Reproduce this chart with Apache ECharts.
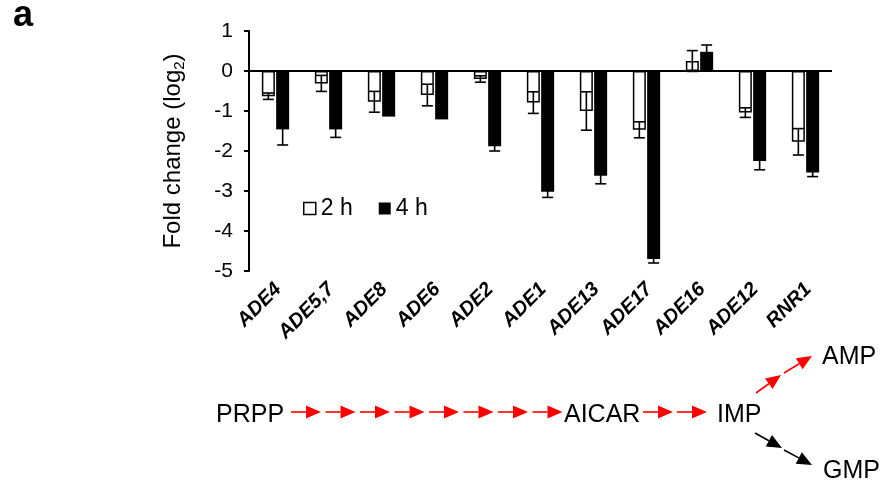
<!DOCTYPE html>
<html>
<head>
<meta charset="utf-8">
<script src="https://cdn.jsdelivr.net/npm/echarts@6/dist/echarts.min.js"></script>
<style>
  html, body { margin: 0; padding: 0; background: #fff; }
  #chart { width: 886px; height: 487px; }
</style>
</head>
<body>
<div id="chart"></div>
<script>
// genes on the x axis
var genes = ['ADE4', 'ADE5,7', 'ADE8', 'ADE6', 'ADE2', 'ADE1', 'ADE13', 'ADE17', 'ADE16', 'ADE12', 'RNR1'];
// fold change (log2) after 2 h and 4 h, with error bars
var fc2h = [-0.63, -0.31, -0.77, -0.60, -0.20, -0.79, -1.00, -1.47, 0.25, -1.04, -1.77];
var err2h = [0.08, 0.20, 0.26, 0.27, 0.08, 0.27, 0.48, 0.20, 0.26, 0.12, 0.33];
var fc4h = [-1.46, -1.46, -1.14, -1.21, -1.88, -3.02, -2.62, -4.70, 0.48, -2.25, -2.54];
var err4h = [0.39, 0.20, 0, 0, 0.12, 0.14, 0.20, 0.10, 0.17, 0.22, 0.10];
var yTicks = [-5, -4, -3, -2, -1, 0, 1];

var FONT = '"Liberation Sans", Arial, sans-serif';
var BAR_W = 13;
var BAR_GAP = 0.1;

var chart = echarts.init(document.getElementById('chart'));

// error bars drawn on top of the bars, shifted to the bar's slot
function errorBars(side) {
  return function (params, api) {
    var i = api.value(0), v = api.value(1), e = api.value(2);
    if (!e) return;
    var dx = side * (BAR_W + BAR_W * BAR_GAP) / 2;
    var hi = api.coord([i, v + e]);
    var lo = api.coord([i, v - e]);
    var x = hi[0] + dx;
    var cap = 5.5;
    var st = { stroke: '#000', lineWidth: 1.6 };
    return {
      type: 'group',
      children: [
        { type: 'line', shape: { x1: x, y1: hi[1], x2: x, y2: lo[1] }, style: st },
        { type: 'line', shape: { x1: x - cap, y1: hi[1], x2: x + cap, y2: hi[1] }, style: st },
        { type: 'line', shape: { x1: x - cap, y1: lo[1], x2: x + cap, y2: lo[1] }, style: st }
      ]
    };
  };
}

// pathway arrow: line with a filled triangle head at the tip
function arrow(x1, y1, x2, y2, color) {
  var ang = Math.atan2(y2 - y1, x2 - x1);
  var hl = 15, hw = 6.5;
  var bx = x2 - hl * Math.cos(ang), by = y2 - hl * Math.sin(ang);
  var px = -Math.sin(ang) * hw, py = Math.cos(ang) * hw;
  return {
    type: 'group',
    children: [
      { type: 'line', shape: { x1: x1, y1: y1, x2: bx, y2: by }, style: { stroke: color, lineWidth: 1.6 } },
      { type: 'polygon', shape: { points: [[x2, y2], [bx + px, by + py], [bx - px, by - py]] }, style: { fill: color } }
    ]
  };
}

function label(text, x, y) {
  return { type: 'text', x: x, y: y, style: { text: text, font: '25px ' + FONT, fill: '#000', verticalAlign: 'middle' } };
}

var graphics = [
  { type: 'text', x: 13, y: 16, style: { text: 'a', font: 'bold 36px ' + FONT, fill: '#000', verticalAlign: 'middle' } },
  label('PRPP', 216, 415),
  label('AICAR', 564, 415),
  label('IMP', 717, 415),
  label('AMP', 822, 357),
  label('GMP', 823, 471)
];
for (var k = 0; k < 8; k++) {
  graphics.push(arrow(291 + k * 34.5, 412, 321 + k * 34.5, 412, '#ff0000'));
}
graphics.push(arrow(643, 412, 673, 412, '#ff0000'));
graphics.push(arrow(677, 412, 707, 412, '#ff0000'));
graphics.push(arrow(756, 393, 781, 375, '#ff0000'));
graphics.push(arrow(784, 373, 812, 356, '#ff0000'));
graphics.push(arrow(755, 433, 782, 448, '#000'));
graphics.push(arrow(784, 450, 812, 465, '#000'));

var option = {
  animation: false,
  textStyle: { fontFamily: FONT, color: '#000' },
  grid: { left: 249, right: 54, top: 31, bottom: 216 },
  legend: {
    left: 303, top: 197, padding: 0, itemGap: 26,
    itemWidth: 12, itemHeight: 12, icon: 'rect',
    textStyle: { fontSize: 23, color: '#000', fontFamily: FONT },
    data: [
      { name: '2 h', itemStyle: { color: '#fff', borderColor: '#000', borderWidth: 1.5 } },
      { name: '4 h', itemStyle: { color: '#000' } }
    ]
  },
  xAxis: {
    type: 'category',
    data: genes,
    axisLine: { show: false, onZero: false },
    axisTick: { show: false },
    axisLabel: {
      interval: 0, rotate: 45, margin: 18, padding: [0, -4, 0, 0],
      fontSize: 20, fontWeight: 'bold', fontStyle: 'italic', color: '#000', fontFamily: FONT
    }
  },
  yAxis: {
    type: 'value',
    min: yTicks[0], max: yTicks[yTicks.length - 1], interval: 1,
    name: 'Fold change (log{s|2})',
    nameLocation: 'middle', nameGap: 62,
    nameTextStyle: {
      fontSize: 24, color: '#000', fontFamily: FONT,
      rich: { s: { fontSize: 15, padding: [13, 0, 0, 0], fontFamily: FONT, color: '#000' } }
    },
    axisLine: { show: true, lineStyle: { color: '#000', width: 2 } },
    axisTick: { show: true, length: 5, lineStyle: { color: '#000', width: 2 } },
    axisLabel: { fontSize: 21, color: '#000', margin: 16, fontFamily: FONT },
    splitLine: { show: false }
  },
  graphic: graphics,
  series: [
    {
      name: '2 h', type: 'bar', data: fc2h,
      barWidth: BAR_W, barGap: (BAR_GAP * 100) + '%',
      itemStyle: { color: '#fff', borderColor: '#000', borderWidth: 1.5 }
    },
    {
      name: '4 h', type: 'bar', data: fc4h,
      barWidth: BAR_W,
      itemStyle: { color: '#000' },
      markLine: {
        silent: true, symbol: 'none', label: { show: false },
        lineStyle: { color: '#000', width: 2, type: 'solid' },
        data: [{ yAxis: 0 }]
      }
    },
    {
      type: 'custom', z: 5,
      renderItem: errorBars(-1),
      encode: { x: 0, y: 1 },
      data: fc2h.map(function (v, i) { return [i, v, err2h[i]]; })
    },
    {
      type: 'custom', z: 5,
      renderItem: errorBars(1),
      encode: { x: 0, y: 1 },
      data: fc4h.map(function (v, i) { return [i, v, err4h[i]]; })
    }
  ]
};

chart.setOption(option);
</script>
</body>
</html>
